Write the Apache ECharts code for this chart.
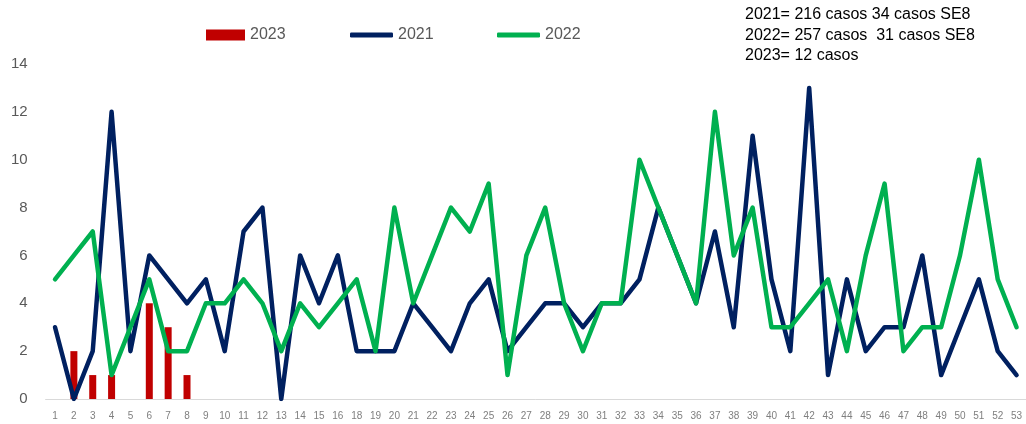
<!DOCTYPE html>
<html>
<head>
<meta charset="utf-8">
<script src="https://cdn.jsdelivr.net/npm/echarts@6/dist/echarts.min.js"></script>
<style>
html,body{margin:0;padding:0;background:#fff;}
#chart{width:1026px;height:424px;}
</style>
</head>
<body>
<div id="chart"></div>
<script>
const weeks = ['1','2','3','4','5','6','7','8','9','10','11','12','13','14','15','16',
  '18','19','20','21','22','23','24','25','26','27','28','29','30','31','32','33','34','35','36',
  '37','38','39','40','41','42','43','44','45','46','47','48','49','50','51','52','53'];
const cases2023 = [0,2,1,1,0,4,3,1];
const cases2021 = [3,0,2,12,2,6,5,4,5,2,7,8,0,6,4,6,
  2,2,2,4,3,2,4,5,2,3,4,4,3,4,4,5,8,6,4,
  7,3,11,5,2,13,1,5,2,3,3,6,1,3,5,2,1];
const cases2022 = [5,6,7,1,3,5,2,2,4,4,5,4,2,4,3,4,
  5,2,8,4,6,8,7,9,1,6,8,4,2,4,4,10,8,6,4,
  12,6,8,3,3,4,5,2,6,9,2,3,3,6,10,5,3];
const yTicks = [0,2,4,6,8,10,12,14];
const noteLines = ['2021= 216 casos 34 casos SE8', '2022= 257 casos  31 casos SE8', '2023= 12 casos'];

const chart = echarts.init(document.getElementById('chart'), null, {renderer:'canvas'});
const FONT = 'Liberation Sans, Arial, sans-serif';
const legendText = {color:'#595959', fontSize:16, fontFamily:FONT};

chart.setOption({
  backgroundColor:'#ffffff',
  animation:false,
  grid:{left:45.6, right:0, top:64, bottom:25, containLabel:false},
  legend:[
    {data:['2023'], left:206, top:27, padding:0, itemWidth:39, itemHeight:11, icon:'rect', selectedMode:false, textStyle:legendText},
    {data:['2021'], left:350, top:27, padding:0, itemWidth:43, itemHeight:5, icon:'roundRect', selectedMode:false, textStyle:legendText},
    {data:['2022'], left:497, top:27, padding:0, itemWidth:43, itemHeight:5, icon:'roundRect', selectedMode:false, textStyle:legendText}
  ],
  graphic: noteLines.map((t, i) => ({
    type:'text', left:745, top:7 + i*20.5,
    style:{text:t, fill:'#000000', font:'16px ' + FONT}
  })),
  xAxis:{
    type:'category', data:weeks, boundaryGap:true,
    axisLine:{show:true, lineStyle:{color:'#d9d9d9', width:1}},
    axisTick:{show:false},
    axisLabel:{interval:0, color:'#7f7f7f', fontSize:10, fontFamily:FONT, margin:12},
    splitLine:{show:false}
  },
  yAxis:{
    type:'value', min:yTicks[0], max:yTicks[yTicks.length-1], interval:2,
    axisLine:{show:false}, axisTick:{show:false},
    axisLabel:{color:'#595959', fontSize:15, fontFamily:FONT, margin:18},
    splitLine:{show:false}
  },
  series:[
    {name:'2023', type:'bar', data:cases2023, barWidth:7, itemStyle:{color:'#C00000'}, z:1},
    {name:'2021', type:'line', data:cases2021, symbol:'none', color:'#002060',
      lineStyle:{color:'#002060', width:4.5, join:'round', cap:'round'}, z:2},
    {name:'2022', type:'line', data:cases2022, symbol:'none', color:'#00B050',
      lineStyle:{color:'#00B050', width:4.5, join:'round', cap:'round'}, z:3}
  ]
});
</script>
</body>
</html>
